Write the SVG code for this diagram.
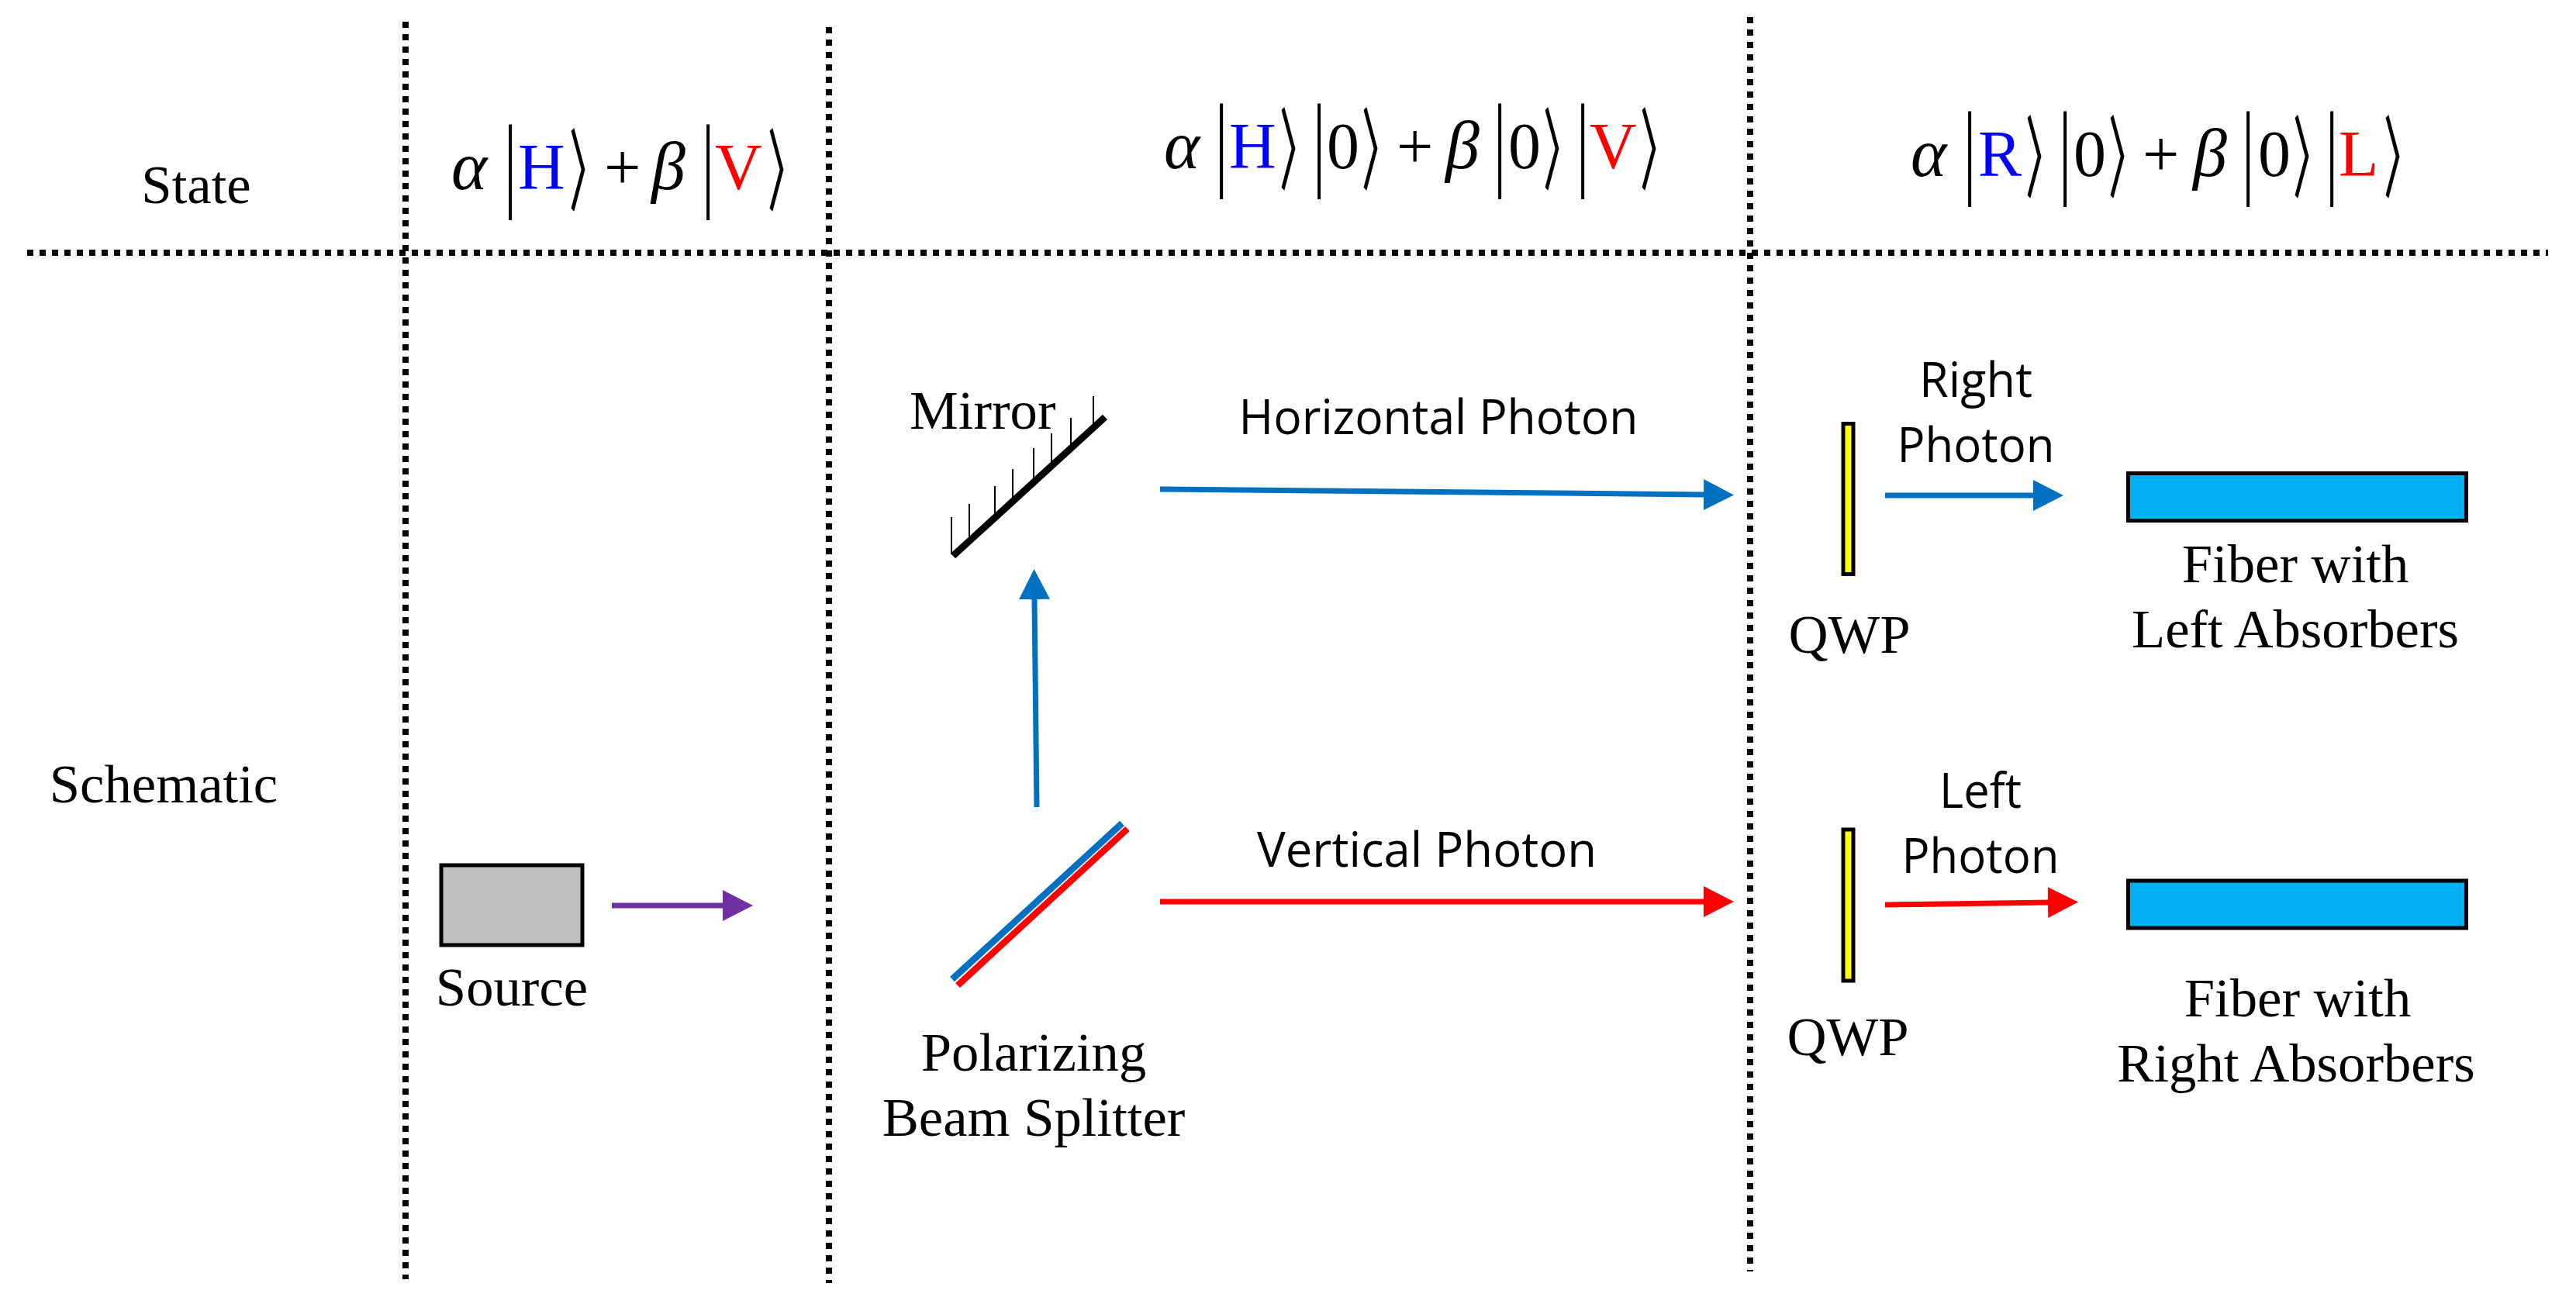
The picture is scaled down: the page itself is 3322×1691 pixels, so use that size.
<svg xmlns="http://www.w3.org/2000/svg" width="3322" height="1691" viewBox="0 0 3322 1691">
<style>
text{fill:#000}
.s{font-family:"Liberation Serif","Times New Roman",serif;font-size:70.7px}
.c{font-family:"Open Sans","Noto Sans",sans-serif;font-size:62px}
.m{font-family:"Liberation Serif",serif;font-size:84px}
.g{font-family:"Liberation Serif",serif;font-size:88px;font-style:italic}
.b{font-family:"Liberation Serif",serif;font-size:135px;text-anchor:middle}
.a{font-family:"Noto Sans CJK JP",sans-serif;font-size:115px;font-weight:500}
.blue{fill:#00F}
.red{fill:#F00}
.mid{text-anchor:middle}
.d{fill:none;stroke:#000;stroke-width:8;stroke-dasharray:8 8}
.bl{stroke:#0070C0;stroke-width:7;fill:none}
.re{stroke:#F00;stroke-width:7;fill:none}
.pu{stroke:#7030A0;stroke-width:7;fill:none}
.pb{stroke-width:8.5}
.qwp{fill:#FF0;stroke:#000;stroke-width:5}
.fib{fill:#00B0F0;stroke:#000;stroke-width:5}
.hatch{stroke:#000;stroke-width:2}
</style>
<defs>
<marker id="hb" markerUnits="userSpaceOnUse" markerWidth="40" markerHeight="40" refX="1" refY="20" orient="auto"><path d="M0 0L39 20L0 40Z" fill="#0070C0"/></marker>
<marker id="hr" markerUnits="userSpaceOnUse" markerWidth="40" markerHeight="40" refX="1" refY="20" orient="auto"><path d="M0 0L39 20L0 40Z" fill="#F00"/></marker>
<marker id="hp" markerUnits="userSpaceOnUse" markerWidth="40" markerHeight="40" refX="1" refY="20" orient="auto"><path d="M0 0L39 20L0 40Z" fill="#7030A0"/></marker>
</defs>
<g id="grid">
<path class="d" d="M523 28V1650"/><path class="d" d="M1069 35V1655"/><path class="d" d="M2257 22V1640"/><path class="d" d="M35 326H3286"/>
</g>
<g id="connectors">
<path class="pu" marker-end="url(#hp)" d="M789 1168H933"/>
<path class="bl" marker-end="url(#hb)" d="M1337 1041L1334 772"/>
<path class="bl" marker-end="url(#hb)" d="M1496 631L2198 638"/>
<path class="re" marker-end="url(#hr)" d="M1496 1163H2198"/>
<path class="bl" marker-end="url(#hb)" d="M2431 639H2623"/>
<path class="re" marker-end="url(#hr)" d="M2431 1167L2642 1164"/>
</g>
<g id="state-labels">
<text class="s mid" x="253" y="262">State</text>
<text class="s mid" x="211" y="1035">Schematic</text>
</g>
<g id="state1">
<text class="g" x="582" y="244">α</text>
<text class="b" transform="translate(658,255) scale(.6,1)">|</text>
<text class="m blue" x="668" y="244">H</text>
<text class="a" transform="translate(734,262) scale(.42,1)">〉</text>
<text class="m" x="779" y="244">+</text>
<text class="g" x="840" y="244">β</text>
<text class="b" transform="translate(913,255) scale(.6,1)">|</text>
<text class="m red" x="922" y="244">V</text>
<text class="a" transform="translate(990,262) scale(.42,1)">〉</text>
</g>
<g id="state2">
<text class="g" x="1501" y="217">α</text>
<text class="b" transform="translate(1575,228) scale(.6,1)">|</text>
<text class="m blue" x="1585" y="217">H</text>
<text class="a" transform="translate(1650,235) scale(.42,1)">〉</text>
<text class="b" transform="translate(1701,228) scale(.6,1)">|</text>
<text class="m" x="1711" y="217">0</text>
<text class="a" transform="translate(1756,235) scale(.42,1)">〉</text>
<text class="m" x="1801" y="217">+</text>
<text class="g" x="1864" y="217">β</text>
<text class="b" transform="translate(1934,228) scale(.6,1)">|</text>
<text class="m" x="1945" y="217">0</text>
<text class="a" transform="translate(1990,235) scale(.42,1)">〉</text>
<text class="b" transform="translate(2041,228) scale(.6,1)">|</text>
<text class="m red" x="2050" y="217">V</text>
<text class="a" transform="translate(2115,235) scale(.42,1)">〉</text>
</g>
<g id="state3">
<text class="g" x="2464" y="227">α</text>
<text class="b" transform="translate(2540,238) scale(.6,1)">|</text>
<text class="m blue" x="2551" y="227">R</text>
<text class="a" transform="translate(2612,245) scale(.42,1)">〉</text>
<text class="b" transform="translate(2663,238) scale(.6,1)">|</text>
<text class="m" x="2674" y="227">0</text>
<text class="a" transform="translate(2719,245) scale(.42,1)">〉</text>
<text class="m" x="2763" y="227">+</text>
<text class="g" x="2828" y="227">β</text>
<text class="b" transform="translate(2899,238) scale(.6,1)">|</text>
<text class="m" x="2912" y="227">0</text>
<text class="a" transform="translate(2957,245) scale(.42,1)">〉</text>
<text class="b" transform="translate(3007,238) scale(.6,1)">|</text>
<text class="m red" x="3016" y="227">L</text>
<text class="a" transform="translate(3074,245) scale(.42,1)">〉</text>
</g>
<g id="source"><rect x="569" y="1116" width="182" height="103" fill="#BFBFBF" stroke="#000" stroke-width="5"/><text class="s mid" x="660" y="1297">Source</text></g>
<g id="mirror">
<path d="M1229 717L1425 538" stroke="#000" stroke-width="9"/>
<path class="hatch" d="M1227 667V715M1250 650V692M1283 627V664M1306 605V642M1333 578V618M1356 559V596M1381 539V574M1410 511V551"/>
<text class="s" x="1173" y="553">Mirror</text>
</g>
<g id="pbs">
<path class="bl pb" d="M1228 1263L1447 1062"/><path class="re pb" d="M1235 1271L1454 1069"/>
<text class="s mid" x="1333" y="1381">Polarizing</text><text class="s mid" x="1333" y="1465">Beam Splitter</text>
</g>
<g id="labels">
<text class="c mid" x="1855" y="560" textLength="515" lengthAdjust="spacingAndGlyphs">Horizontal Photon</text>
<text class="c mid" x="1840" y="1118" textLength="438" lengthAdjust="spacingAndGlyphs">Vertical Photon</text>
</g>
<g id="qwp1"><rect class="qwp" x="2377" y="546.5" width="13" height="194"/><text class="s mid" x="2385" y="842">QWP</text></g>
<g id="qwp2"><rect class="qwp" x="2377" y="1070" width="13" height="195"/><text class="s mid" x="2383" y="1361">QWP</text></g>
<g id="right-photon"><text class="c mid" x="2548" y="512" textLength="146" lengthAdjust="spacingAndGlyphs">Right</text><text class="c mid" x="2548" y="596" textLength="203" lengthAdjust="spacingAndGlyphs">Photon</text></g>
<g id="left-photon"><text class="c mid" x="2554" y="1042" textLength="106" lengthAdjust="spacingAndGlyphs">Left</text><text class="c mid" x="2554" y="1126" textLength="203" lengthAdjust="spacingAndGlyphs">Photon</text></g>
<g id="fiber1"><rect class="fib" x="2744.5" y="610.5" width="436" height="61"/><text class="s mid" x="2960" y="751">Fiber with</text><text class="s mid" x="2960" y="835">Left Absorbers</text></g>
<g id="fiber2"><rect class="fib" x="2744.5" y="1136" width="436" height="61"/><text class="s mid" x="2963" y="1311">Fiber with</text><text class="s mid" x="2961" y="1395">Right Absorbers</text></g>
</svg>
